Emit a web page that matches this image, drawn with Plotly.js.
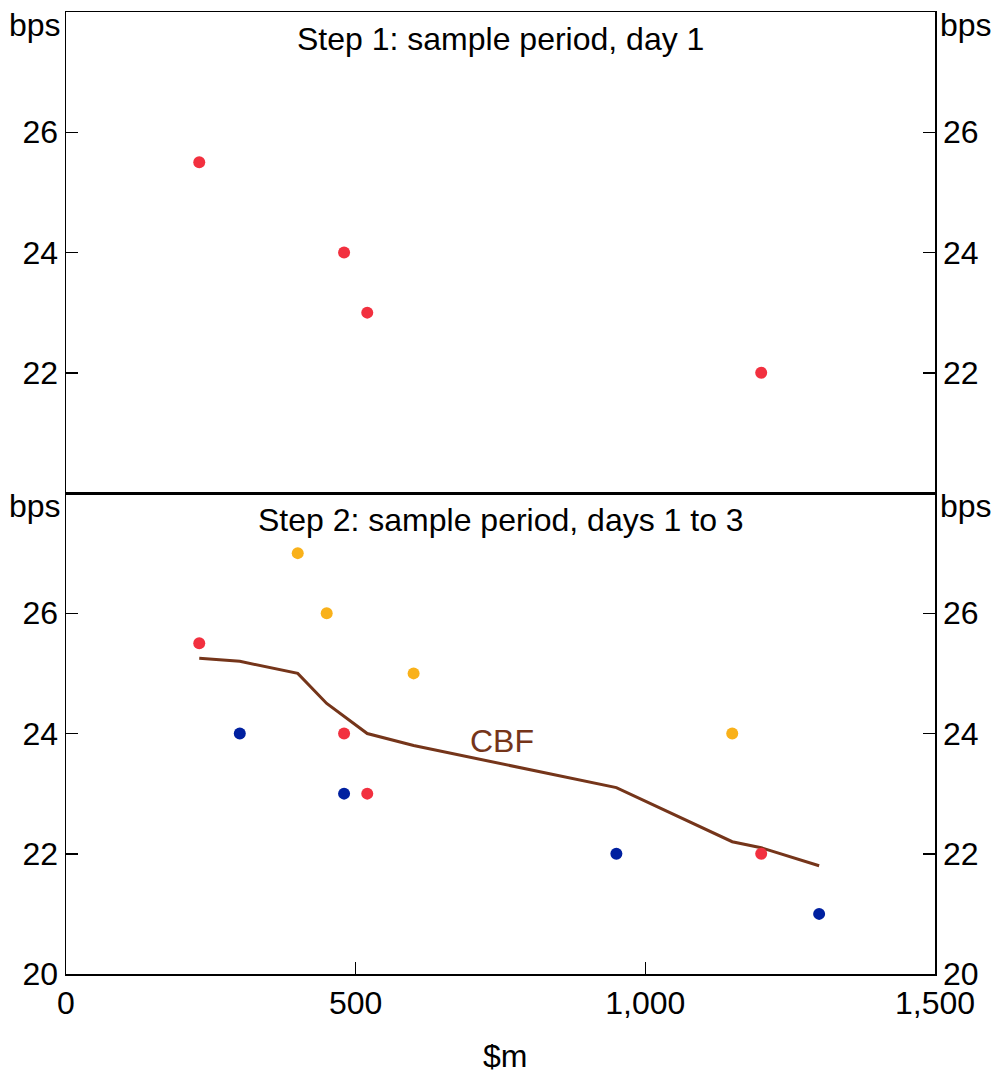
<!DOCTYPE html>
<html>
<head>
<meta charset="utf-8">
<script src="https://cdn.plot.ly/plotly-3.0.1.min.js"></script>
<style>
html,body{margin:0;padding:0;background:#fff;}
#chart{width:996px;height:1073px;}
</style>
</head>
<body>
<div id="chart"></div>
<script>
// Data
const day1X = [230, 480, 520, 1200];
const day1Y = [25.5, 24, 23, 22];
const day2X = [400, 450, 600, 1150];
const day2Y = [27, 26, 25, 24];
const day3X = [300, 480, 950, 1300];
const day3Y = [24, 23, 22, 21];
const cbfX = [230, 300, 400, 450, 520, 600, 950, 1150, 1200, 1300];
const cbfY = [25.25, 25.2, 25.0, 24.5, 24.0, 23.8, 23.1, 22.2, 22.1, 21.8];
const yTickVals = [20, 22, 24, 26, 28];
const yTickTextTop = ['', '22', '24', '26', ''];
const yTickTextBottom = ['20', '22', '24', '26', ''];
const xTickVals = [0, 500, 1000, 1500];
const xTickText = ['0', '500', '1,000', '1,500'];
const panelTitles = ['Step 1: sample period, day 1', 'Step 2: sample period, days 1 to 3'];
const unitLabel = 'bps';
const xTitle = '$m';
const lineLabel = 'CBF';

const RED = '#F2303F', ORANGE = '#F9B11A', BLUE = '#0020A0', BROWN = '#75351A';
const FONT = 'Liberation Sans, Arial, sans-serif';
const FS = 32;
const MS = 12;

const traces = [
  {x: day1X, y: day1Y, xaxis: 'x', yaxis: 'y', mode: 'markers', type: 'scatter',
   marker: {color: RED, size: MS}, hoverinfo: 'none'},
  {x: [], y: [], xaxis: 'x', yaxis: 'y3', type: 'scatter', mode: 'markers', hoverinfo: 'none'},
  {x: cbfX, y: cbfY, xaxis: 'x2', yaxis: 'y2', mode: 'lines', type: 'scatter',
   line: {color: BROWN, width: 3}, hoverinfo: 'none'},
  {x: day2X, y: day2Y, xaxis: 'x2', yaxis: 'y2', mode: 'markers', type: 'scatter',
   marker: {color: ORANGE, size: MS}, hoverinfo: 'none'},
  {x: day3X, y: day3Y, xaxis: 'x2', yaxis: 'y2', mode: 'markers', type: 'scatter',
   marker: {color: BLUE, size: MS}, hoverinfo: 'none'},
  {x: day1X, y: day1Y, xaxis: 'x2', yaxis: 'y2', mode: 'markers', type: 'scatter',
   marker: {color: RED, size: MS}, hoverinfo: 'none'},
  {x: [], y: [], xaxis: 'x2', yaxis: 'y4', type: 'scatter', mode: 'markers', hoverinfo: 'none'}
];

const tickFont = {family: FONT, size: FS, color: '#000'};
function yAx(extra, text) {
  return Object.assign({
    range: [20, 28], tickmode: 'array', tickvals: yTickVals, ticktext: text,
    ticks: 'inside', ticklen: 12, tickwidth: 1.5, tickcolor: '#000',
    showline: true, linecolor: '#000', linewidth: 1.5, showgrid: false, zeroline: false,
    tickfont: tickFont, fixedrange: true
  }, extra);
}

const annotations = [];
[['y', 0], ['y2', 1]].forEach(([yr, i]) => {
  annotations.push({text: panelTitles[i], xref: 'paper', x: 0.5, yref: yr, y: 28,
    yanchor: 'top', xanchor: 'center', yshift: -7, showarrow: false,
    font: {family: FONT, size: FS, color: '#000'}});
  annotations.push({text: unitLabel, xref: 'paper', x: 0, xanchor: 'right', xshift: -3,
    yref: yr, y: 28, yanchor: 'top', yshift: 7, showarrow: false,
    font: {family: FONT, size: FS, color: '#000'}});
  annotations.push({text: unitLabel, xref: 'paper', x: 1, xanchor: 'left', xshift: 3,
    yref: yr, y: 28, yanchor: 'top', yshift: 7, showarrow: false,
    font: {family: FONT, size: FS, color: '#000'}});
});
annotations.push({text: lineLabel, xref: 'x2', yref: 'y2', x: 752, y: 23.87,
  showarrow: false, xanchor: 'center', yanchor: 'middle',
  font: {family: FONT, size: FS, color: BROWN}});
annotations.push({text: xTitle, xref: 'paper', yref: 'paper', x: 0.5, y: 0,
  xanchor: 'center', yanchor: 'middle', xshift: 4, yshift: -82, showarrow: false,
  font: {family: FONT, size: FS, color: '#000'}});

const layout = {
  width: 996, height: 1073,
  margin: {l: 66, r: 61, t: 12, b: 99, pad: 0},
  paper_bgcolor: '#fff', plot_bgcolor: '#fff',
  showlegend: false,
  font: {family: FONT, color: '#000'},
  xaxis: {range: [0, 1500], anchor: 'y', showticklabels: false, ticks: '',
    showline: true, mirror: true, linecolor: '#000', linewidth: 1.5,
    showgrid: false, zeroline: false, fixedrange: true},
  xaxis2: {range: [0, 1500], anchor: 'y2', tickmode: 'array', tickvals: xTickVals, ticktext: xTickText,
    ticks: 'inside', ticklen: 12, tickwidth: 1.5, tickcolor: '#000',
    showline: true, mirror: true, linecolor: '#000', linewidth: 1.5,
    showgrid: false, zeroline: false, tickfont: tickFont, fixedrange: true},
  yaxis: yAx({domain: [0.5, 1], anchor: 'x'}, yTickTextTop),
  yaxis3: yAx({overlaying: 'y', side: 'right', anchor: 'x'}, yTickTextTop),
  yaxis2: yAx({domain: [0, 0.5], anchor: 'x2'}, yTickTextBottom),
  yaxis4: yAx({overlaying: 'y2', side: 'right', anchor: 'x2'}, yTickTextBottom),
  annotations: annotations
};

Plotly.newPlot('chart', traces, layout, {displayModeBar: false, staticPlot: true});
</script>
</body>
</html>
